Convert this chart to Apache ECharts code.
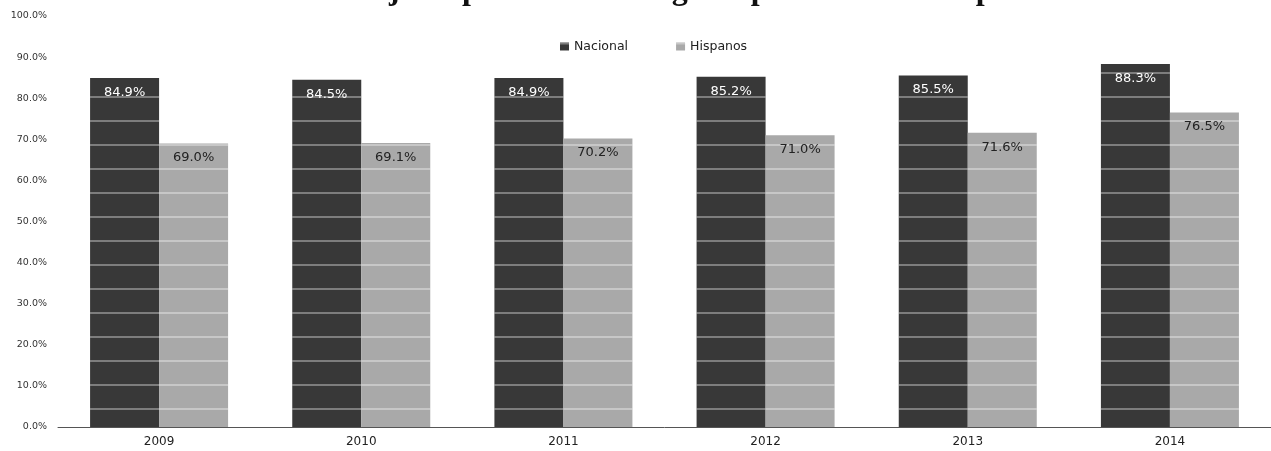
<!DOCTYPE html>
<html>
<head>
<meta charset="utf-8">
<script src="https://cdn.jsdelivr.net/npm/echarts@6/dist/echarts.min.js"></script>
<style>html,body{margin:0;padding:0;background:#fff;}#c{width:1271px;height:451px;}</style>
</head>
<body>
<div id="c"></div>
<script>
var titleText = 'Porcentaje de personas con algún tipo de cobertura para salud';
var years = ['2009', '2010', '2011', '2012', '2013', '2014'];
var nacional = [84.9, 84.5, 84.9, 85.2, 85.5, 88.3];
var hispanos = [69.0, 69.1, 70.2, 71.0, 71.6, 76.5];
var seriesNames = ['Nacional', 'Hispanos'];

var chart = echarts.init(document.getElementById('c'));
chart.setOption({
  backgroundColor: '#fff',
  animation: false,
  title: {
    text: titleText,
    left: 262, top: -30,
    textStyle: {fontFamily: 'Liberation Serif', fontWeight: 'bold', fontSize: 32, color: '#111'}
  },
  legend: {
    data: seriesNames,
    left: 555, top: 35, icon: 'rect',
    itemWidth: 9, itemHeight: 8, itemGap: 48,
    textStyle: {fontFamily: 'DejaVu Sans', fontSize: 12.5, color: '#222'}
  },
  grid: {left: 58, right: -11, top: 16, bottom: 24, containLabel: false},
  xAxis: {
    type: 'category', data: years,
    axisLine: {lineStyle: {color: '#555', width: 1}},
    axisTick: {show: false},
    axisLabel: {fontFamily: 'DejaVu Sans', fontSize: 12, color: '#222', margin: 9}
  },
  yAxis: {
    type: 'value', min: 0, max: 100, interval: 10,
    splitLine: {show: false},
    axisLine: {show: false}, axisTick: {show: false},
    axisLabel: {fontFamily: 'DejaVu Sans', fontSize: 9.5, color: '#333', margin: 11,
      formatter: function (v) { return v.toFixed(1) + '%'; }}
  },
  series: [
    {
      name: seriesNames[0], type: 'bar', data: nacional, barWidth: 69, barGap: '0%',
      itemStyle: {color: '#383838',
        decal: {symbol: 'rect', symbolSize: 1, dashArrayX: [[1, 0]], dashArrayY: [2, 22], color: 'rgba(255,255,255,0.35)', rotation: 0}},
      label: {show: true, position: 'insideTop', distance: 8, color: '#fff', fontFamily: 'DejaVu Sans', fontSize: 13,
        formatter: function (p) { return p.value.toFixed(1) + '%'; }}
    },
    {
      name: seriesNames[1], type: 'bar', data: hispanos, barWidth: 69,
      itemStyle: {color: '#a9a9a9',
        decal: {symbol: 'rect', symbolSize: 1, dashArrayX: [[1, 0]], dashArrayY: [2, 22], color: 'rgba(255,255,255,0.35)', rotation: 0}},
      label: {show: true, position: 'insideTop', distance: 8, color: '#222', fontFamily: 'DejaVu Sans', fontSize: 13,
        formatter: function (p) { return p.value.toFixed(1) + '%'; }}
    }
  ]
});
</script>
</body>
</html>
